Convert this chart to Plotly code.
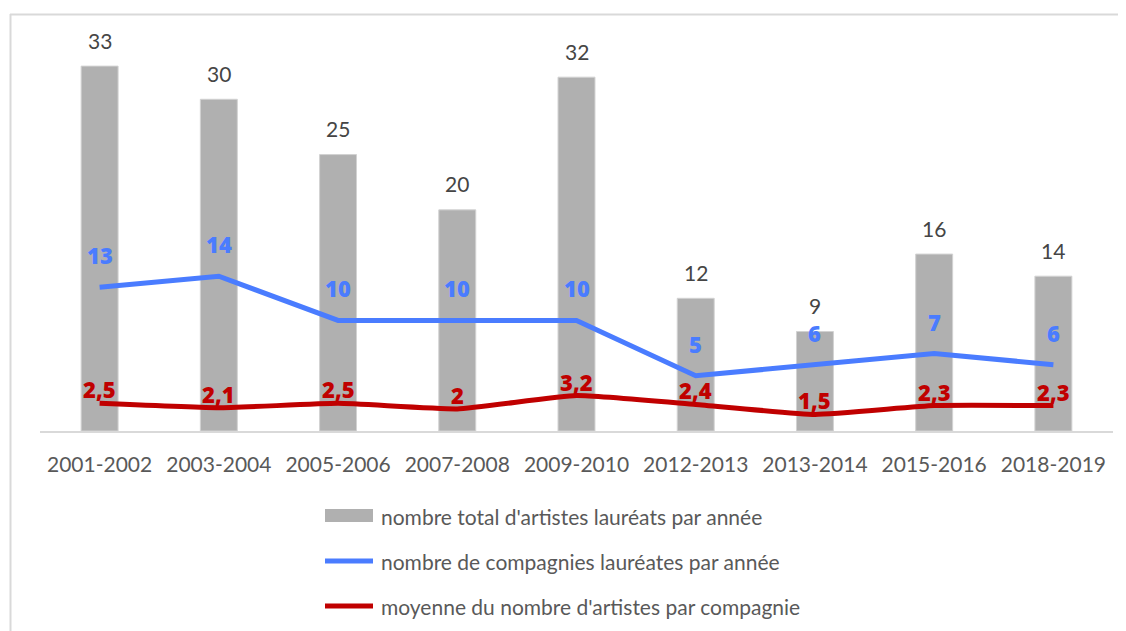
import plotly.graph_objects as go

categories = ["2001-2002", "2003-2004", "2005-2006", "2007-2008", "2009-2010",
              "2012-2013", "2013-2014", "2015-2016", "2018-2019"]
artistes_total = [33, 30, 25, 20, 32, 12, 9, 16, 14]
compagnies = [13, 14, 10, 10, 10, 5, 6, 7, 6]
moyenne = [2.5, 2.1, 2.5, 2.0, 3.2, 2.4, 1.5, 2.3, 2.3]
moyenne_labels = ["2,5", "2,1", "2,5", "2", "3,2", "2,4", "1,5", "2,3", "2,3"]
legend_names = ["nombre total d'artistes lauréats par année",
                "nombre de compagnies lauréates par année",
                "moyenne du nombre d'artistes par compagnie"]

FONT = "Lato"
BOLD_FONT = "Open Sans"
GRAY_BAR = "#B0B0B0"
BLUE = "#4A7CFF"
RED = "#C00000"

# page body has an 8px default margin: figure is placed at (8, 8)
OFF = 8
FW, FH = 1126 - OFF, 631 - OFF

fig = go.Figure()
fig.add_trace(go.Bar(x=categories, y=artistes_total, marker=dict(color=GRAY_BAR, line=dict(color="#D2D2D2", width=1)),
                     width=0.31, showlegend=False, hoverinfo="skip"))
fig.add_trace(go.Scatter(x=categories, y=compagnies, mode="lines", line=dict(color=BLUE, width=5),
                         showlegend=False, hoverinfo="skip"))
fig.add_trace(go.Scatter(x=categories, y=moyenne, mode="lines", line=dict(color=RED, width=5, shape="spline", smoothing=0.4),
                         showlegend=False, hoverinfo="skip"))

annotations = []
for c, v in zip(categories, artistes_total):
    annotations.append(dict(x=c, y=v, xref="x", yref="y", text=str(v), showarrow=False, yshift=26,
                            font=dict(family=FONT, size=21, color="#454545")))
for c, v in zip(categories, compagnies):
    annotations.append(dict(x=c, y=v, xref="x", yref="y", text=str(v), showarrow=False, yshift=32,
                            font=dict(family=BOLD_FONT, size=22, color=BLUE, weight=800)))
for c, v, t in zip(categories, moyenne, moyenne_labels):
    annotations.append(dict(x=c, y=v, xref="x", yref="y", text=t, showarrow=False, yshift=14,
                            font=dict(family=BOLD_FONT, size=22, color=RED, weight=800)))

# plot area in screen pixels
L_s, R_s, T_s, B_s = 40, 1113, 44, 431
L, T = L_s - OFF, T_s - OFF
R = FW - (R_s - OFF)
B = FH - (B_s - OFF)
W, H = R_s - L_s, B_s - T_s

def px(xs):
    return (xs - L_s) / W

def py(ys):
    return (B_s - ys) / H

shapes = []
legend_y = [516, 561, 606]
shapes.append(dict(type="rect", xref="paper", yref="paper", x0=px(325), x1=px(373), y0=py(522), y1=py(509),
                   fillcolor=GRAY_BAR, line=dict(width=0)))
shapes.append(dict(type="line", xref="paper", yref="paper", x0=px(325), x1=px(373), y0=py(561), y1=py(561),
                   line=dict(color=BLUE, width=5)))
shapes.append(dict(type="line", xref="paper", yref="paper", x0=px(325), x1=px(373), y0=py(606), y1=py(606),
                   line=dict(color=RED, width=5)))
for name, yy in zip(legend_names, legend_y):
    annotations.append(dict(x=px(379), y=py(yy), xref="paper", yref="paper", text=name, showarrow=False,
                            xanchor="left", yanchor="middle", font=dict(family=FONT, size=21, color="#595959")))

# Chart frame (top and left edges visible)
shapes.append(dict(type="line", xref="paper", yref="paper", x0=px(10), x1=px(1130), y0=py(14.5), y1=py(14.5),
                   line=dict(color="#D9D9D9", width=2)))
shapes.append(dict(type="line", xref="paper", yref="paper", x0=px(10.5), x1=px(10.5), y0=py(14), y1=py(640),
                   line=dict(color="#D9D9D9", width=2)))

fig.update_layout(
    width=FW, height=FH,
    margin=dict(l=L, r=R, t=T, b=B),
    paper_bgcolor="white", plot_bgcolor="white",
    annotations=annotations,
    shapes=shapes,
    font=dict(family=FONT),
)
fig.update_xaxes(showline=True, linecolor="#D9D9D9", linewidth=2, showgrid=False, zeroline=False,
                 ticks="outside", ticklen=14, tickcolor="rgba(0,0,0,0)",
                 tickfont=dict(family=FONT, size=21, color="#595959"))
fig.update_yaxes(range=[0, 35], showgrid=False, zeroline=False, showticklabels=False, showline=False)

fig.write_html("out.html")
